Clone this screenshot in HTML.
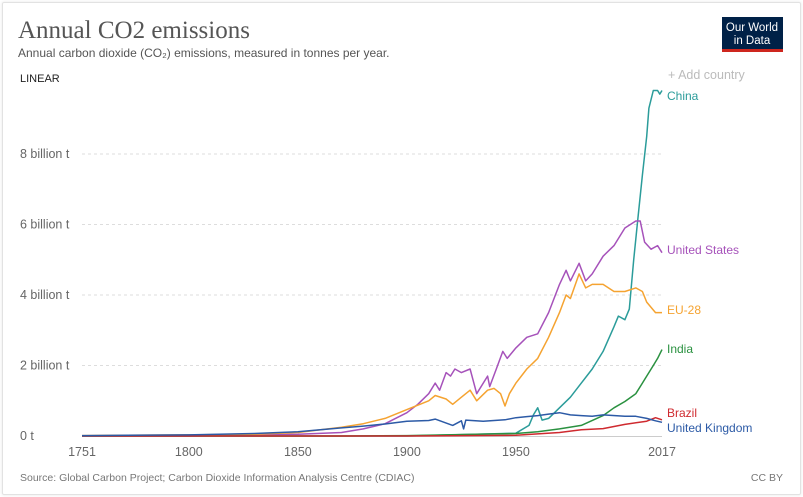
<!DOCTYPE html>
<html><head><meta charset="utf-8"><style>
body{margin:0;background:#fff;font-family:"Liberation Sans",sans-serif;}
#frame{position:absolute;left:2px;top:2px;width:797px;height:491px;border:1px solid #e2e2e2;border-radius:2px;box-shadow:0 0 3px rgba(0,0,0,.1);}
</style></head><body>
<div id="frame"></div>
<svg width="803" height="497" style="position:absolute;left:0;top:0">
<text x="18" y="38" font-family="Liberation Serif,serif" font-size="25" fill="#555">Annual CO2 emissions</text>
<text x="18" y="57" font-size="12" fill="#555">Annual carbon dioxide (CO₂) emissions, measured in tonnes per year.</text>
<g><rect x="722" y="17" width="61" height="35" fill="#002147"/><rect x="722" y="49" width="61" height="3" fill="#ce261e"/>
<text x="752" y="31" font-size="11.5" fill="#fff" text-anchor="middle">Our World</text><text x="752" y="44" font-size="11.5" fill="#fff" text-anchor="middle">in Data</text></g>
<text x="20" y="82" font-size="11" fill="#222">LINEAR</text>
<text x="668" y="79" font-size="12.5" fill="#bbb">+ Add country</text>
<g id="grid"></g><g id="series"></g>
<text x="20" y="481" font-size="10.5" fill="#777">Source: Global Carbon Project; Carbon Dioxide Information Analysis Centre (CDIAC)</text>
<text x="783" y="481" font-size="10.5" fill="#777" text-anchor="end">CC BY</text>
</svg>
<script>
const yTicks=[0,2,4,6,8];
const yTickLabels=["0 t","2 billion t","4 billion t","6 billion t","8 billion t"];
const xTicks=[1751,1800,1850,1900,1950,2017];
const seriesNames=["China","United States","EU-28","India","Brazil","United Kingdom"];
const seriesColors=["#2b9c9a","#a652ba","#f5a331","#2a9140","#cf2a2f","#2c5aa6"];
const labelYs=[96,250,310,349,413,428];
const china=[[1751,0],[1900,0],[1950,0.08],[1956,0.3],[1958,0.6],[1960,0.8],[1962,0.45],[1965,0.5],[1970,0.8],[1975,1.1],[1980,1.5],[1985,1.9],[1990,2.4],[1995,3.1],[1997,3.4],[2000,3.3],[2002,3.6],[2004,5.0],[2006,6.2],[2008,7.4],[2010,8.5],[2011,9.3],[2013,9.8],[2015,9.8],[2016,9.7],[2017,9.8]];
const us=[[1751,0],[1800,0],[1850,0.05],[1870,0.1],[1880,0.2],[1890,0.35],[1900,0.66],[1905,0.9],[1910,1.2],[1913,1.5],[1915,1.3],[1918,1.8],[1920,1.7],[1922,1.9],[1925,1.8],[1929,1.9],[1932,1.2],[1937,1.7],[1938,1.4],[1941,1.9],[1944,2.4],[1946,2.2],[1950,2.5],[1955,2.8],[1960,2.9],[1965,3.5],[1970,4.3],[1973,4.7],[1975,4.4],[1979,4.9],[1982,4.4],[1985,4.6],[1990,5.1],[1995,5.4],[2000,5.9],[2005,6.1],[2007,6.1],[2009,5.5],[2012,5.3],[2015,5.4],[2017,5.2]];
const eu=[[1751,0.01],[1800,0.03],[1830,0.05],[1850,0.1],[1870,0.25],[1880,0.35],[1890,0.5],[1900,0.75],[1910,1.0],[1913,1.15],[1918,1.05],[1921,0.9],[1925,1.1],[1929,1.3],[1932,1.0],[1937,1.3],[1940,1.35],[1943,1.2],[1945,0.85],[1947,1.2],[1950,1.5],[1955,1.9],[1960,2.2],[1965,2.8],[1970,3.5],[1973,4.0],[1975,3.9],[1979,4.6],[1982,4.2],[1985,4.3],[1990,4.3],[1995,4.1],[2000,4.1],[2005,4.2],[2008,4.1],[2010,3.8],[2014,3.5],[2017,3.5]];
const india=[[1751,0],[1870,0],[1900,0.01],[1950,0.07],[1960,0.12],[1970,0.2],[1980,0.3],[1990,0.58],[1995,0.8],[2000,0.98],[2005,1.2],[2008,1.5],[2010,1.7],[2013,2.0],[2015,2.2],[2017,2.45]];
const brazil=[[1751,0],[1900,0],[1950,0.02],[1970,0.1],[1980,0.18],[1990,0.21],[2000,0.33],[2010,0.42],[2014,0.52],[2017,0.46]];
const uk=[[1751,0.01],[1800,0.03],[1830,0.07],[1850,0.12],[1870,0.23],[1880,0.28],[1890,0.34],[1900,0.42],[1910,0.44],[1913,0.48],[1921,0.3],[1925,0.43],[1926,0.2],[1927,0.45],[1935,0.42],[1945,0.46],[1950,0.52],[1955,0.55],[1960,0.58],[1965,0.62],[1970,0.66],[1975,0.6],[1980,0.58],[1985,0.56],[1990,0.6],[2000,0.56],[2005,0.56],[2010,0.5],[2014,0.43],[2017,0.39]];
const allSeries=[china,us,eu,india,brazil,uk];
const NS="http://www.w3.org/2000/svg";
const X=y=>82+(y-1751)*580/266;
const Y=v=>436-v*35.25;
function mk(tag,attrs,parent){const e=document.createElementNS(NS,tag);for(const k in attrs)e.setAttribute(k,attrs[k]);parent.appendChild(e);return e;}
const grid=document.getElementById('grid'),ser=document.getElementById('series');
yTicks.forEach((t,i)=>{
 if(t>0){const l=mk('line',{x1:82,x2:662,y1:Y(t),y2:Y(t),stroke:'#ddd','stroke-dasharray':'3,3'},grid);
 
 }
 const tx=mk('text',{x:20,y:Y(t)+4,'font-size':12.5,fill:'#666'},grid);tx.textContent=yTickLabels[i];
 
 
});
const ax=mk('line',{x1:82,x2:662,y1:436.5,y2:436.5,stroke:'#ccc'},grid);


xTicks.forEach(t=>{const tx=mk('text',{x:X(t),y:456,'font-size':12.5,fill:'#666','text-anchor':'middle'},grid);tx.textContent=t;
 
 });
allSeries.forEach((s,i)=>{
 const p=mk('polyline',{points:s.map(d=>X(d[0]).toFixed(1)+','+Y(d[1]).toFixed(1)).join(' '),fill:'none',stroke:seriesColors[i],'stroke-width':1.5,'stroke-linejoin':'round'},ser);
 
 
 const tx=mk('text',{x:667,y:labelYs[i]+4,'font-size':12,fill:seriesColors[i]},ser);tx.textContent=seriesNames[i];
 
 
});
</script>
</body></html>
